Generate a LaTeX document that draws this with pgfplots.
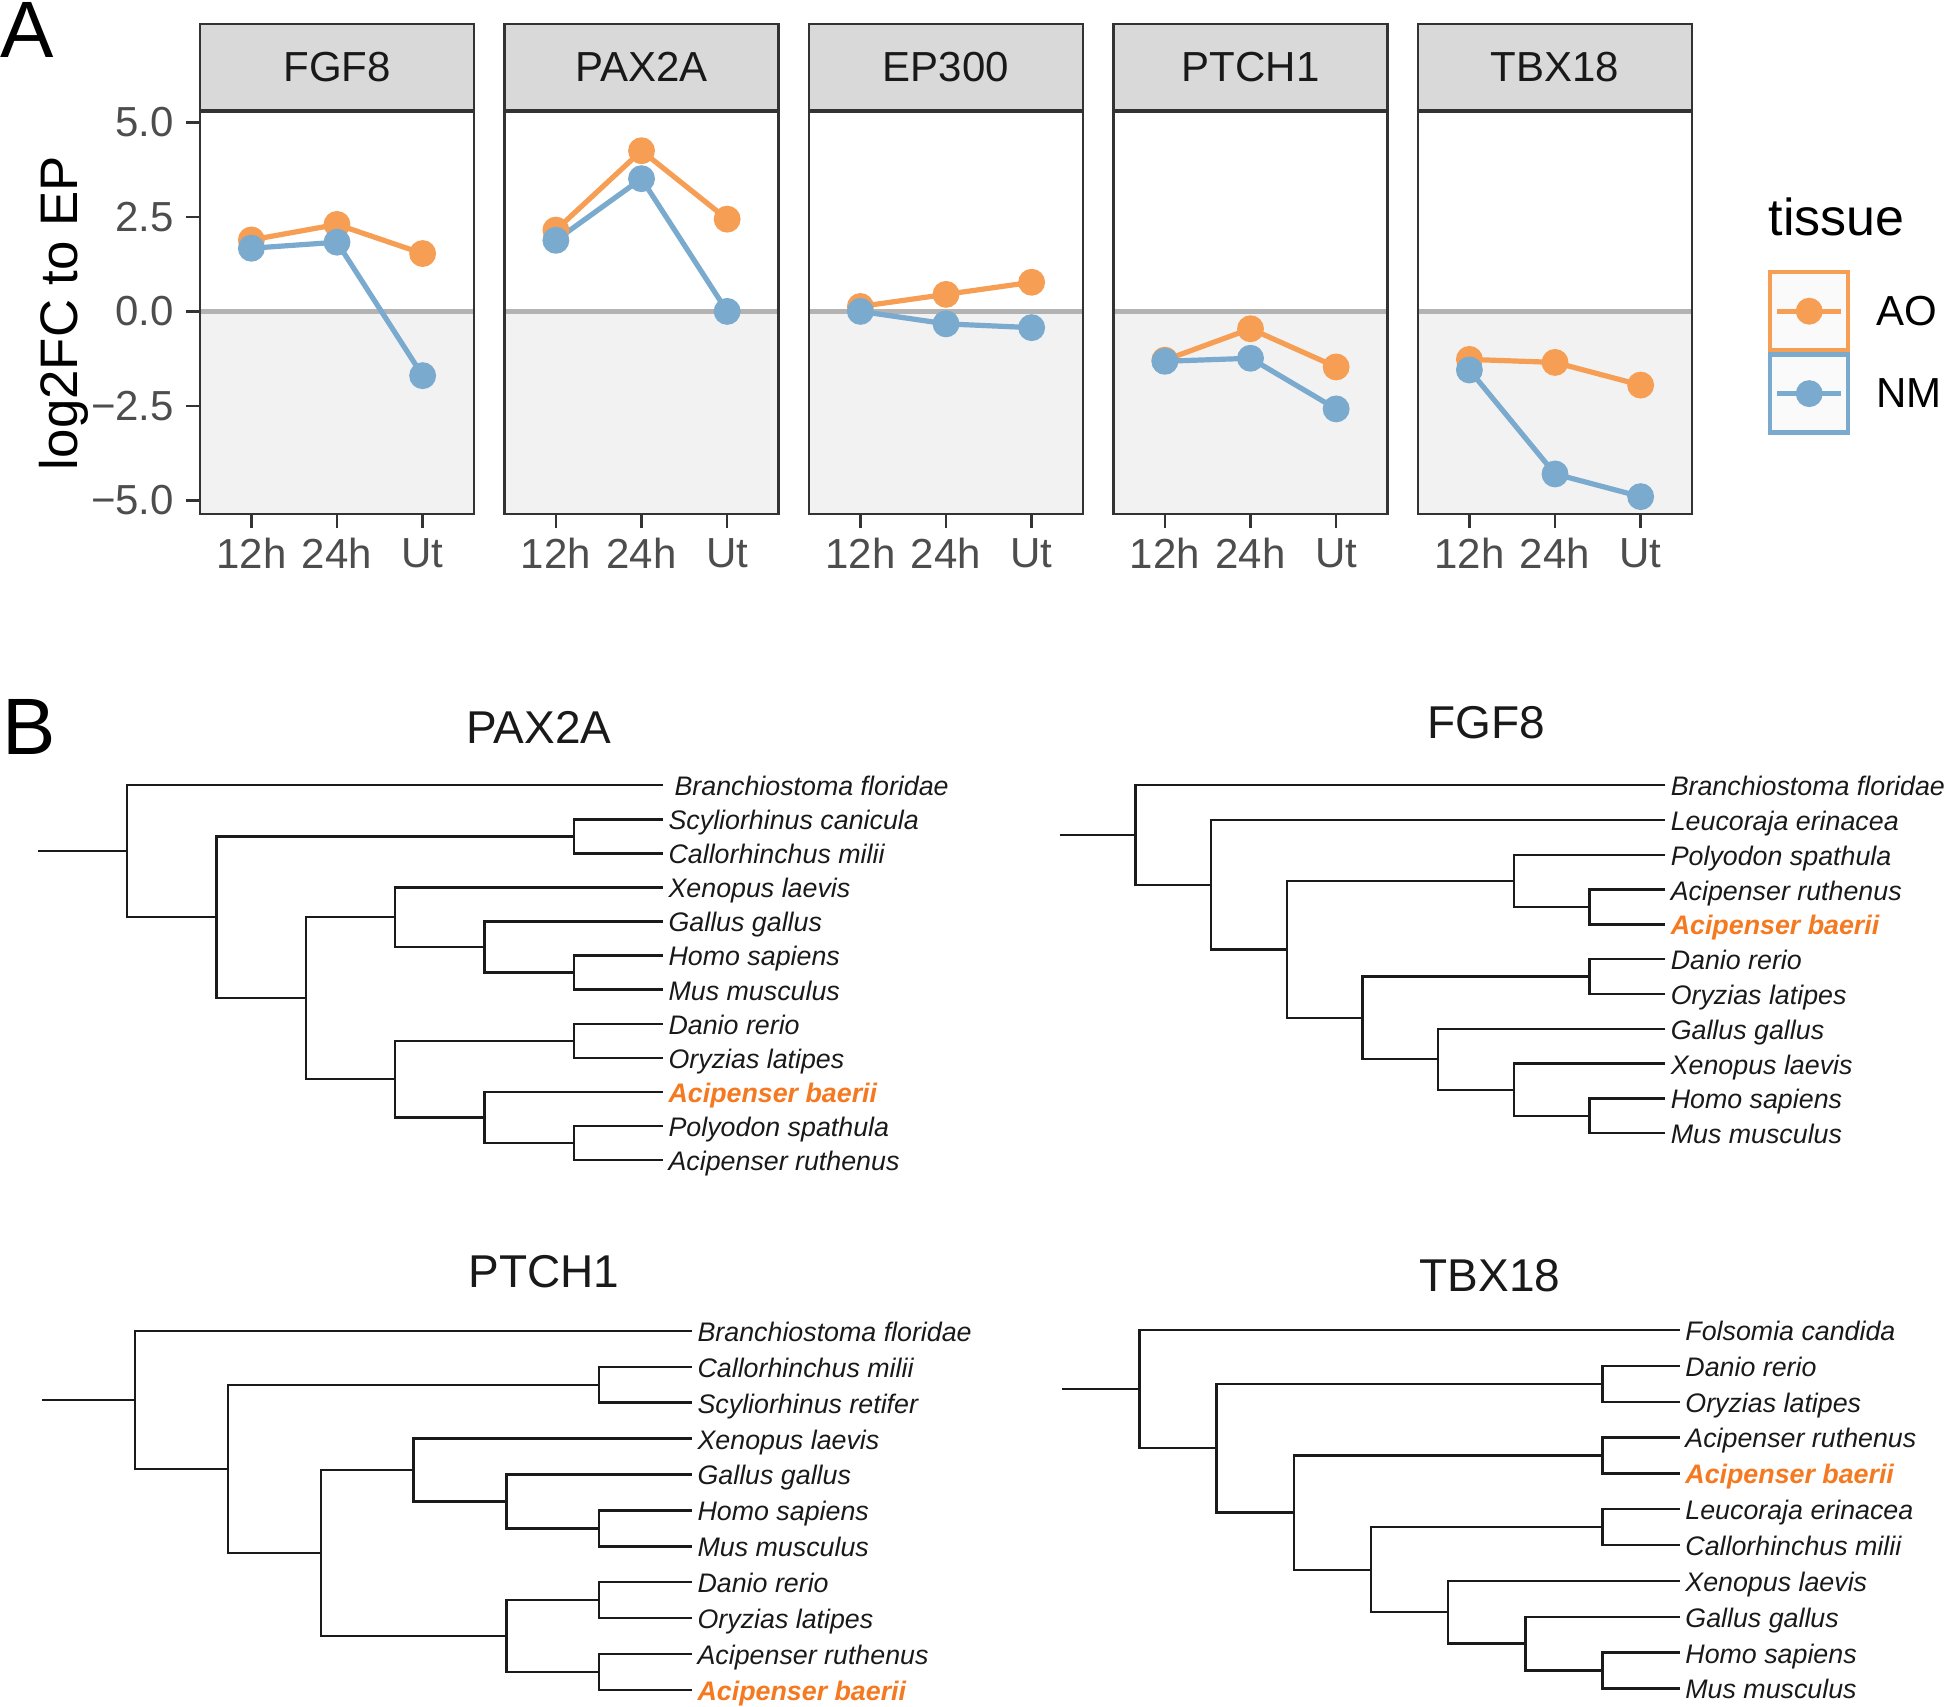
\documentclass[border=0pt]{standalone}
\usepackage{fontspec}
\setmainfont{Liberation Sans}
\usepackage{pgfplots}
\pgfplotsset{compat=1.18}

\definecolor{darkline}{HTML}{333333}
\definecolor{ticktext}{HTML}{4D4D4D}
\definecolor{stripgray}{HTML}{D9D9D9}
\definecolor{shadegray}{HTML}{F2F2F2}
\definecolor{zerogray}{HTML}{B3B3B3}
\definecolor{aoorange}{RGB}{246,158,84}
\definecolor{nmblue}{RGB}{122,170,206}
\definecolor{baerii}{RGB}{244,121,32}
\definecolor{treeline}{HTML}{1A1A1A}
\definecolor{keyfill}{HTML}{FAFAFA}

\pgfplotsset{
 facet/.style={
  scale only axis, width=68.5pt, height=100.75pt, anchor=south west,
  xmin=0.4, xmax=3.6, ymin=-5.36, ymax=5.30,
  xtick={1,2,3}, xticklabels={12h,24h,Ut},
  axis on top,
  axis line style={draw=darkline, line width=0.6pt},
  tick align=outside, major tick length=3.5pt,
  major tick style={draw=darkline, line width=0.6pt},
  xtick pos=lower, ytick pos=left,
  ticklabel style={font=\fontsize{10.5}{12}\selectfont, text=ticktext, inner sep=0pt},
  xticklabel style={anchor=north, yshift=-2.4pt},
  yticklabel style={anchor=east, xshift=-2.8pt},
  every axis title shift=0pt,
  title style={at={(0.5,1)}, anchor=south, yshift=0pt, fill=stripgray, draw=darkline, line width=0.6pt, minimum width=68.5pt, minimum height=21.5pt, inner sep=0pt, font=\fontsize{10.5}{12}\selectfont, text=black!90},
 },
 ao/.style={color=aoorange, line width=1.3pt, mark=*, mark size=2.7pt, mark options={solid}},
 nm/.style={color=nmblue, line width=1.3pt, mark=*, mark size=2.7pt, mark options={solid}},
 tree/.style={scale only axis, hide axis, y dir=reverse, clip=false, unbounded coords=jump, anchor=south west},
 branch/.style={draw=treeline, line width=0.6pt, mark=none},
}
\tikzset{
 tip/.style={anchor=base west, inner sep=0pt, xshift=1.2pt, yshift=-2.6pt, font=\fontsize{6.7}{8}\selectfont\itshape, text=black!90},
 tipb/.style={tip, font=\fontsize{6.7}{8}\selectfont\bfseries\itshape, text=baerii},
 treetitle/.style={inner sep=0pt, font=\fontsize{11.5}{13}\selectfont, text=black!90},
}

\newcommand{\negzone}{%
 \addplot[fill=shadegray, draw=none, forget plot] coordinates {(0.4,0)(3.6,0)(3.6,-5.36)(0.4,-5.36)};
 \addplot[zerogray, line width=1.2pt, forget plot] coordinates {(0.4,0)(3.6,0)};
}
\newcommand{\stripbar}{\draw[darkline, line width=1.2pt] (rel axis cs:0,1) -- (rel axis cs:1,1);}

\begin{document}
\begin{tikzpicture}[x=0.25pt, y=-0.25pt]
\path[use as bounding box] (0,0) rectangle (1946,1706);

% ---------------- Panel A ----------------
\node[anchor=base west, inner sep=0pt, font=\fontsize{20}{24}\selectfont] at (0,57) {A};
\node[rotate=90, anchor=base, inner sep=0pt, font=\fontsize{13.2}{15}\selectfont] at (78,313) {log2FC to EP};

\begin{axis}[facet, at={(50pt,-128.5pt)}, title={FGF8},
  ytick={-5,-2.5,0,2.5,5}, yticklabels={−5.0,−2.5,0.0,2.5,5.0}]
 \negzone
 \addplot[ao] coordinates {(1,1.89)(2,2.30)(3,1.53)};
 \addplot[nm] coordinates {(1,1.67)(2,1.83)(3,-1.70)};
 \stripbar
\end{axis}

\begin{axis}[facet, at={(126.125pt,-128.5pt)}, title={PAX2A}, ytick=\empty]
 \negzone
 \addplot[ao] coordinates {(1,2.15)(2,4.25)(3,2.44)};
 \addplot[nm] coordinates {(1,1.88)(2,3.51)(3,0.0)};
 \stripbar
\end{axis}

\begin{axis}[facet, at={(202.25pt,-128.5pt)}, title={EP300}, ytick=\empty]
 \negzone
 \addplot[ao] coordinates {(1,0.13)(2,0.45)(3,0.77)};
 \addplot[nm] coordinates {(1,0.0)(2,-0.33)(3,-0.43)};
 \stripbar
\end{axis}

\begin{axis}[facet, at={(278.375pt,-128.5pt)}, title={PTCH1}, ytick=\empty]
 \negzone
 \addplot[ao] coordinates {(1,-1.29)(2,-0.46)(3,-1.47)};
 \addplot[nm] coordinates {(1,-1.32)(2,-1.24)(3,-2.58)};
 \stripbar
\end{axis}

\begin{axis}[facet, at={(354.5pt,-128.5pt)}, title={TBX18}, ytick=\empty,
  legend style={at={(1.2774,0.6055)}, anchor=north west, draw=none, fill=none,
    inner sep=0pt, outer sep=0pt, row sep=0pt, column sep=6.5pt,
    nodes={inner sep=0pt, yshift=-0.6pt, font=\fontsize{10.5}{12}\selectfont, text=black}},
  legend cell align=left,
  legend image code/.code={
    \draw[#1, mark=none, line width=1.1pt, fill=keyfill] (0pt,-9.75pt) rectangle (19.5pt,9.75pt);
    \draw[#1, mark repeat=2, mark phase=2] plot coordinates {(1.8pt,0pt) (9.75pt,0pt) (17.7pt,0pt)};
  }]
 \negzone
 \addplot[ao] coordinates {(1,-1.27)(2,-1.35)(3,-1.95)};
 \addlegendentry{AO}
 \addplot[nm] coordinates {(1,-1.55)(2,-4.30)(3,-4.90)};
 \addlegendentry{NM}
 \stripbar
\end{axis}

\node[anchor=base west, inner sep=0pt, font=\fontsize{13}{15}\selectfont] at (1768,235) {tissue};

% ---------------- Panel B ----------------
\node[anchor=base west, inner sep=0pt, font=\fontsize{20}{24}\selectfont] at (2,754) {B};

% PAX2A tree
\node[treetitle] at (539,727) {PAX2A};
\begin{axis}[tree, at={(9.5pt,-290pt)}, width=156.25pt, height=93.7pt, xmin=-1, xmax=6, ymin=0, ymax=11]
 \addplot[branch] coordinates {
  (-1,1.9375)(0,1.9375) (nan,nan)
  (6,0)(0,0)(0,3.875)(1,3.875) (nan,nan)
  (5,1.5)(1,1.5)(1,6.25)(2,6.25) (nan,nan)
  (6,1)(5,1)(5,2)(6,2) (nan,nan)
  (3,3.875)(2,3.875)(2,8.625)(3,8.625) (nan,nan)
  (6,3)(3,3)(3,4.75)(4,4.75) (nan,nan)
  (6,4)(4,4)(4,5.5)(5,5.5) (nan,nan)
  (6,5)(5,5)(5,6)(6,6) (nan,nan)
  (5,7.5)(3,7.5)(3,9.75)(4,9.75) (nan,nan)
  (6,7)(5,7)(5,8)(6,8) (nan,nan)
  (6,9)(4,9)(4,10.5)(5,10.5) (nan,nan)
  (6,10)(5,10)(5,11)(6,11)
 };
 \node[tip, xshift=1.5pt] at (axis cs:6,0) {Branchiostoma floridae};
 \node[tip] at (axis cs:6,1) {Scyliorhinus canicula};
 \node[tip] at (axis cs:6,2) {Callorhinchus milii};
 \node[tip] at (axis cs:6,3) {Xenopus laevis};
 \node[tip] at (axis cs:6,4) {Gallus gallus};
 \node[tip] at (axis cs:6,5) {Homo sapiens};
 \node[tip] at (axis cs:6,6) {Mus musculus};
 \node[tip] at (axis cs:6,7) {Danio rerio};
 \node[tip] at (axis cs:6,8) {Oryzias latipes};
 \node[tipb] at (axis cs:6,9) {Acipenser baerii};
 \node[tip] at (axis cs:6,10) {Polyodon spathula};
 \node[tip] at (axis cs:6,11) {Acipenser ruthenus};
\end{axis}

% FGF8 tree
\node[treetitle] at (1486,723) {FGF8};
\begin{axis}[tree, at={(264.9pt,-283.3pt)}, width=151.4pt, height=87pt, xmin=-1, xmax=7, ymin=0, ymax=10]
 \addplot[branch] coordinates {
  (-1,1.4296875)(0,1.4296875) (nan,nan)
  (7,0)(0,0)(0,2.859375)(1,2.859375) (nan,nan)
  (7,1)(1,1)(1,4.71875)(2,4.71875) (nan,nan)
  (5,2.75)(2,2.75)(2,6.6875)(3,6.6875) (nan,nan)
  (7,2)(5,2)(5,3.5)(6,3.5) (nan,nan)
  (7,3)(6,3)(6,4)(7,4) (nan,nan)
  (6,5.5)(3,5.5)(3,7.875)(4,7.875) (nan,nan)
  (7,5)(6,5)(6,6)(7,6) (nan,nan)
  (7,7)(4,7)(4,8.75)(5,8.75) (nan,nan)
  (7,8)(5,8)(5,9.5)(6,9.5) (nan,nan)
  (7,9)(6,9)(6,10)(7,10)
 };
 \node[tip] at (axis cs:7,0) {Branchiostoma floridae};
 \node[tip] at (axis cs:7,1) {Leucoraja erinacea};
 \node[tip] at (axis cs:7,2) {Polyodon spathula};
 \node[tip] at (axis cs:7,3) {Acipenser ruthenus};
 \node[tipb] at (axis cs:7,4) {Acipenser baerii};
 \node[tip] at (axis cs:7,5) {Danio rerio};
 \node[tip] at (axis cs:7,6) {Oryzias latipes};
 \node[tip] at (axis cs:7,7) {Gallus gallus};
 \node[tip] at (axis cs:7,8) {Xenopus laevis};
 \node[tip] at (axis cs:7,9) {Homo sapiens};
 \node[tip] at (axis cs:7,10) {Mus musculus};
\end{axis}

% PTCH1 tree
\node[treetitle] at (544,1272) {PTCH1};
\begin{axis}[tree, at={(10.6pt,-422.5pt)}, width=162.4pt, height=89.8pt, xmin=-1, xmax=6, ymin=0, ymax=10]
 \addplot[branch] coordinates {
  (-1,1.921875)(0,1.921875) (nan,nan)
  (6,0)(0,0)(0,3.84375)(1,3.84375) (nan,nan)
  (5,1.5)(1,1.5)(1,6.1875)(2,6.1875) (nan,nan)
  (6,1)(5,1)(5,2)(6,2) (nan,nan)
  (3,3.875)(2,3.875)(2,8.5)(4,8.5) (nan,nan)
  (6,3)(3,3)(3,4.75)(4,4.75) (nan,nan)
  (6,4)(4,4)(4,5.5)(5,5.5) (nan,nan)
  (6,5)(5,5)(5,6)(6,6) (nan,nan)
  (5,7.5)(4,7.5)(4,9.5)(5,9.5) (nan,nan)
  (6,7)(5,7)(5,8)(6,8) (nan,nan)
  (6,9)(5,9)(5,10)(6,10)
 };
 \node[tip] at (axis cs:6,0) {Branchiostoma floridae};
 \node[tip] at (axis cs:6,1) {Callorhinchus milii};
 \node[tip] at (axis cs:6,2) {Scyliorhinus retifer};
 \node[tip] at (axis cs:6,3) {Xenopus laevis};
 \node[tip] at (axis cs:6,4) {Gallus gallus};
 \node[tip] at (axis cs:6,5) {Homo sapiens};
 \node[tip] at (axis cs:6,6) {Mus musculus};
 \node[tip] at (axis cs:6,7) {Danio rerio};
 \node[tip] at (axis cs:6,8) {Oryzias latipes};
 \node[tip] at (axis cs:6,9) {Acipenser ruthenus};
 \node[tipb] at (axis cs:6,10) {Acipenser baerii};
\end{axis}

% TBX18 tree
\node[treetitle] at (1490,1276) {TBX18};
\begin{axis}[tree, at={(265.55pt,-422.1pt)}, width=154.4pt, height=89.6pt, xmin=-1, xmax=7, ymin=0, ymax=10]
 \addplot[branch] coordinates {
  (-1,1.6484375)(0,1.6484375) (nan,nan)
  (7,0)(0,0)(0,3.296875)(1,3.296875) (nan,nan)
  (6,1.5)(1,1.5)(1,5.09375)(2,5.09375) (nan,nan)
  (7,1)(6,1)(6,2)(7,2) (nan,nan)
  (6,3.5)(2,3.5)(2,6.6875)(3,6.6875) (nan,nan)
  (7,3)(6,3)(6,4)(7,4) (nan,nan)
  (6,5.5)(3,5.5)(3,7.875)(4,7.875) (nan,nan)
  (7,5)(6,5)(6,6)(7,6) (nan,nan)
  (7,7)(4,7)(4,8.75)(5,8.75) (nan,nan)
  (7,8)(5,8)(5,9.5)(6,9.5) (nan,nan)
  (7,9)(6,9)(6,10)(7,10)
 };
 \node[tip] at (axis cs:7,0) {Folsomia candida};
 \node[tip] at (axis cs:7,1) {Danio rerio};
 \node[tip] at (axis cs:7,2) {Oryzias latipes};
 \node[tip] at (axis cs:7,3) {Acipenser ruthenus};
 \node[tipb] at (axis cs:7,4) {Acipenser baerii};
 \node[tip] at (axis cs:7,5) {Leucoraja erinacea};
 \node[tip] at (axis cs:7,6) {Callorhinchus milii};
 \node[tip] at (axis cs:7,7) {Xenopus laevis};
 \node[tip] at (axis cs:7,8) {Gallus gallus};
 \node[tip] at (axis cs:7,9) {Homo sapiens};
 \node[tip] at (axis cs:7,10) {Mus musculus};
\end{axis}
\end{tikzpicture}
\end{document}
